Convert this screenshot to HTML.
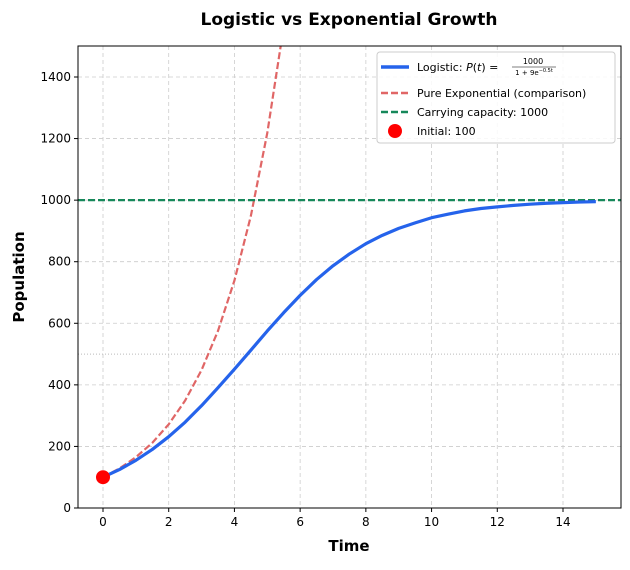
<!DOCTYPE html>
<html><head><meta charset="utf-8"><style>
body{margin:0;background:#fff;font-family:"Liberation Sans","DejaVu Sans",sans-serif;}
svg text{font-family:"DejaVu Sans","Liberation Sans",sans-serif;}
</style></head><body>
<svg id="chart" width="630" height="565" viewBox="0 0 630 565" xmlns="http://www.w3.org/2000/svg">
<defs><clipPath id="clip"><rect x="78" y="46" width="543" height="462"/></clipPath></defs>
<rect width="630" height="565" fill="#fff"/>
<text x="349" y="25" text-anchor="middle" font-size="17" font-weight="bold">Logistic vs Exponential Growth</text>
<g id="grid"></g>
<g id="series" clip-path="url(#clip)"></g>
<rect x="78" y="46" width="543" height="462" fill="none" stroke="#000" stroke-width="1"/>
<g id="axes"></g>
<text x="349" y="551" text-anchor="middle" font-size="15" font-weight="bold">Time</text>
<text transform="translate(24,277) rotate(-90)" text-anchor="middle" font-size="15" font-weight="bold">Population</text>
<g>
<rect x="377" y="52" width="238" height="91" rx="3" fill="#fff" fill-opacity="0.85" stroke="#ccc"/>
<line x1="381" y1="67" x2="409" y2="67" stroke="#2563eb" stroke-width="3.5"/>
<text x="417" y="71" font-size="11">Logistic: <tspan font-style="italic">P</tspan>(<tspan font-style="italic">t</tspan>) = </text>
<text x="533" y="64" font-size="8" text-anchor="middle">1000</text>
<line x1="512" y1="67" x2="556" y2="67" stroke="#000" stroke-width="0.6"/>
<text x="534" y="75" font-size="7" text-anchor="middle">1 + 9e<tspan font-size="5" dy="-3">−0.5t</tspan></text>
<line x1="381" y1="93" x2="409" y2="93" stroke="#e06666" stroke-width="2.5" stroke-dasharray="7,3"/>
<text x="417" y="97" font-size="11">Pure Exponential (comparison)</text>
<line x1="381" y1="112" x2="409" y2="112" stroke="#16885a" stroke-width="2.5" stroke-dasharray="7,3"/>
<text x="417" y="116" font-size="11">Carrying capacity: 1000</text>
<circle cx="395" cy="131" r="7" fill="red"/>
<text x="417" y="135" font-size="11">Initial: 100</text>
</g>
</svg>
<script>
const times=[0,0.5,1,1.5,2,2.5,3,3.5,4,4.5,5,5.5,6,6.5,7,7.5,8,8.5,9,9.5,10,10.5,11,11.5,12,12.5,13,13.5,14,14.5,15];
const logistic=[100,124.9,154.8,190.2,231.6,278.8,332.4,390.8,450.9,512.7,575.0,634.5,690.6,742.0,786.8,825.2,858.5,885.6,908.3,926.1,942.8,954.5,965.1,972.8,978.2,983.0,986.8,989.8,992.0,993.8,995.1];
const expTimes=[0,0.5,1,1.5,2,2.5,3,3.5,4,4.5,5,5.5];
const exponential=[100,128.4,164.9,211.7,271.8,349.0,448.2,575.5,738.9,948.7,1218.2,1564.2];
const capacity=[1000];
const initial=[0,100];
const xTicks=[0,2,4,6,8,10,12,14];
const yTicks=[0,200,400,600,800,1000,1200,1400];
const X=t=>103+(t-0)*32.857;
const Y=v=>508-v*0.30786;
const NS="http://www.w3.org/2000/svg";
function mk(tag,attrs,parent){const e=document.createElementNS(NS,tag);for(const k in attrs)e.setAttribute(k,attrs[k]);parent.appendChild(e);return e;}
const grid=document.getElementById('grid'),axes=document.getElementById('axes'),series=document.getElementById('series');
xTicks.forEach(t=>{
 const g=mk('line',{x1:X(t),x2:X(t),y1:46,y2:508,stroke:'#ccc','stroke-dasharray':'4,3','stroke-width':0.8},grid);
 
 
 mk('line',{x1:X(t),x2:X(t),y1:508,y2:512,stroke:'#000'},axes);
 const l=mk('text',{x:X(t),y:526,'text-anchor':'middle','font-size':12},axes);l.textContent=t;
 
 
});
yTicks.forEach(v=>{
 const g=mk('line',{x1:78,x2:621,y1:Y(v),y2:Y(v),stroke:'#ccc','stroke-dasharray':'4,3','stroke-width':0.8},grid);
 
 
 mk('line',{x1:74,x2:78,y1:Y(v),y2:Y(v),stroke:'#000'},axes);
 const l=mk('text',{x:71,y:Y(v)+4,'text-anchor':'end','font-size':12},axes);l.textContent=v;
 
 
});
const half=mk('line',{x1:78,x2:621,y1:Y(capacity[0]/2),y2:Y(capacity[0]/2),stroke:'#bbb','stroke-dasharray':'1,2','stroke-width':1},grid);


const ep=mk('polyline',{points:expTimes.map((t,i)=>X(t)+','+Y(exponential[i])).join(' '),fill:'none',stroke:'#e06666','stroke-width':2.2,'stroke-dasharray':'7,3'},series);


const cp=mk('line',{x1:78,x2:621,y1:Y(capacity[0]),y2:Y(capacity[0]),stroke:'#16885a','stroke-width':2.2,'stroke-dasharray':'7,3'},series);


const lp=mk('polyline',{points:times.map((t,i)=>X(t)+','+Y(logistic[i])).join(' '),fill:'none',stroke:'#2563eb','stroke-width':3.2,'stroke-linejoin':'round'},series);


const ip=mk('circle',{cx:X(initial[0]),cy:Y(initial[1]),r:7,fill:'red'},series);


</script>
</body></html>
